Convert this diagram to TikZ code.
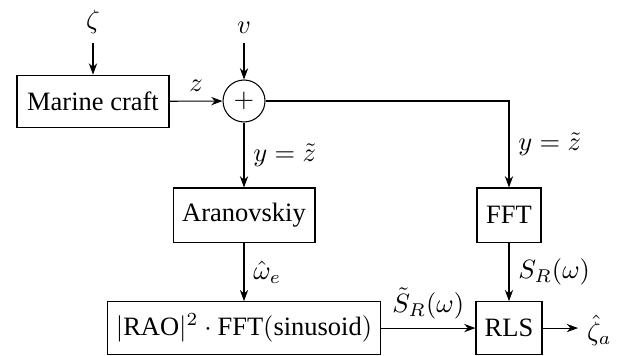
\documentclass[tikz,border=0pt]{standalone}
\usepackage{amsmath}
\usepackage{fontspec}
\setmainfont{Liberation Serif}
\usepackage{tikz}
\usetikzlibrary{arrows.meta,positioning,calc}

\begin{document}
\begin{tikzpicture}[
        block/.style={draw, minimum height=0.70cm, inner sep=2pt, align=center},
        sumnode/.style={draw, circle, minimum size=0.557cm, inner sep=0pt},
        sig/.style={-{Stealth[length=1.5mm,width=1.1mm]}}
    ]
    \useasboundingbox (0,0) rectangle (8.373,-4.711);
    % Inputs and plant
    \node (zeta) at (1.234,-0.292) {$\zeta$};
    \node[block, minimum width=2.017cm] (craft) at (1.234,-1.347) {Marine craft};
    \node[sumnode] (sum) at (3.238,-1.340) {$+$};
    \node (noise) at (3.238,-0.372) {$v$};
    % Estimation branch
    \node[block, minimum width=1.884cm, minimum height=0.717cm] (aran) at (3.238,-2.853) {Aranovskiy};
    \node[block, minimum width=3.623cm] (rao) at (3.238,-4.353) {$|\text{RAO}|^2 \cdot \text{FFT}(\text{sinusoid})$};
    % Spectrum branch
    \node[block, minimum width=0.849cm, minimum height=0.717cm] (fft) at (6.754,-2.853) {FFT};
    \node[block, minimum width=0.876cm] (rls) at (6.754,-4.353) {RLS};
    \coordinate (out) at (7.67,-4.353);
    \node[anchor=west, inner sep=1pt] (amp) at (7.75,-4.38) {$\hat{\zeta}_a$};
    % Connections
    \draw[sig] (zeta) -- (craft);
    \draw[sig] (noise) -- (sum);
    \draw[sig] (craft) -- node[above] {$z$} (sum);
    \draw[sig] (sum) -- node[right] {$y=\tilde{z}$} (aran);
    \draw[sig] (sum.east) -| node[pos=0.75, right] {$y=\tilde{z}$} (fft.north);
    \draw[sig] (aran) -- node[right] {$\hat{\omega}_e$} (rao);
    \draw[sig] (fft) -- node[right] {$S_R(\omega)$} (rls);
    \draw[sig] (rao) -- node[above] {$\tilde{S}_R(\omega)$} (rls);
    \draw[sig] (rls) -- (out);
    \end{tikzpicture}
\end{document}
